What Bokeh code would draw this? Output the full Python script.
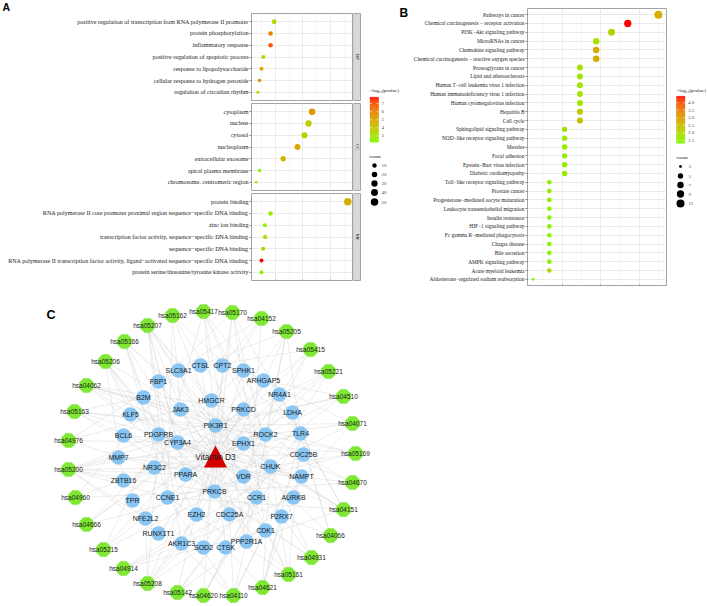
import math
from bokeh.plotting import figure
from bokeh.models import (FactorRange, Range1d, FixedTicker, LinearColorMapper,
                          LinearInterpolator, ColumnDataSource, NumeralTickFormatter)
from bokeh.layouts import row, column
from bokeh.transform import transform
from bokeh.core.properties import value
from bokeh.embed import file_html
from bokeh.resources import INLINE

SERIF = "Liberation Serif"
SANS = "Liberation Sans"

# ---------------- Panel A data (GO enrichment) ----------------
bp_terms = ["positive regulation of transcription from RNA polymerase II promoter",
            "protein phosphorylation", "inflammatory response",
            "positive regulation of apoptotic process", "response to lipopolysaccharide",
            "cellular response to hydrogen peroxide", "regulation of circadian rhythm"]
bp_ratio = [0.238, 0.205, 0.205, 0.140, 0.123, 0.105, 0.090]
bp_count = [13, 11, 11, 8, 7, 6, 5]
bp_logp = [3.4, 6.0, 6.9, 3.5, 5.0, 5.4, 3.3]

cc_terms = ["cytoplasm", "nucleus", "cytosol", "nucleoplasm", "extracellular exosome",
            "apical plasma membrane", "chromosome, centromeric region"]
cc_ratio = [0.583, 0.550, 0.514, 0.450, 0.320, 0.105, 0.075]
cc_count = [32, 30, 28, 25, 18, 6, 4]
cc_logp = [5.5, 3.8, 3.6, 4.9, 4.6, 2.22, 3.0]

mf_terms = ["protein binding",
            "RNA polymerase II core promoter proximal region sequence\u2212specific DNA binding",
            "zinc ion binding",
            "transcription factor activity, sequence\u2212specific DNA binding",
            "sequence\u2212specific DNA binding",
            "RNA polymerase II transcription factor activity, ligand\u2212activated sequence\u2212specific DNA binding",
            "protein serine/threonine/tyrosine kinase activity"]
mf_ratio = [0.907, 0.205, 0.153, 0.156, 0.138, 0.123, 0.123]
mf_count = [50, 11, 8, 9, 8, 7, 7]
mf_logp = [4.8, 2.8, 2.4, 3.3, 3.7, 7.78, 2.5]

facet_names = ["BP", "CC", "MF"]
a_logp_breaks = [3, 4, 5, 6, 7]
a_count_breaks = [10, 20, 30, 40, 50]
a_ratio_breaks = [0.25, 0.50, 0.75]

# ---------------- Panel B data (KEGG enrichment) ----------------
kegg_terms = ["Pathways in cancer", "Chemical carcinogenesis \u2212 receptor activation",
              "PI3K\u2212Akt signaling pathway", "MicroRNAs in cancer", "Chemokine signaling pathway",
              "Chemical carcinogenesis \u2212 reactive oxygen species", "Proteoglycans in cancer",
              "Lipid and atherosclerosis", "Human T\u2212cell leukemia virus 1 infection",
              "Human immunodeficiency virus 1 infection", "Human cytomegalovirus infection",
              "Hepatitis B", "Cell cycle", "Sphingolipid signaling pathway",
              "NOD\u2212like receptor signaling pathway", "Measles", "Focal adhesion",
              "Epstein\u2212Barr virus infection", "Diabetic cardiomyopathy",
              "Toll\u2212like receptor signaling pathway", "Prostate cancer",
              "Progesterone\u2212mediated oocyte maturation", "Leukocyte transendothelial migration",
              "Insulin resistance", "HIF\u22121 signaling pathway", "Fc gamma R\u2212mediated phagocytosis",
              "Chagas disease", "Bile secretion", "AMPK signaling pathway", "Acute myeloid leukemia",
              "Aldosterone\u2212regulated sodium reabsorption"]
kegg_ids = ["hsa05200", "hsa05207", "hsa04151", "hsa05206", "hsa04062", "hsa05208", "hsa05205",
            "hsa05417", "hsa05166", "hsa05170", "hsa05163", "hsa05161", "hsa04110", "hsa04071",
            "hsa04621", "hsa05162", "hsa04510", "hsa05169", "hsa05415", "hsa04620", "hsa05215",
            "hsa04914", "hsa04670", "hsa04931", "hsa04066", "hsa04666", "hsa05142", "hsa04976",
            "hsa04152", "hsa05221", "hsa04960"]
kegg_ratio = [0.180, 0.148, 0.131, 0.115, 0.115, 0.115, 0.098, 0.098, 0.098, 0.098, 0.098,
              0.098, 0.098, 0.082, 0.082, 0.082, 0.082, 0.082, 0.082, 0.066, 0.066, 0.066,
              0.066, 0.066, 0.066, 0.066, 0.066, 0.066, 0.066, 0.066, 0.049]
kegg_count = [11, 9, 8, 7, 7, 7, 6, 6, 6, 6, 6, 6, 6, 5, 5, 5, 5, 5, 5, 4, 4, 4, 4, 4, 4, 4,
              4, 4, 4, 4, 3]
kegg_logp = [2.75, 4.41, 2.15, 1.8, 2.85, 2.8, 1.8, 1.75, 1.75, 1.75, 1.75, 2.3, 2.5, 1.8,
             1.65, 1.65, 1.65, 1.65, 1.65, 1.55, 1.55, 1.55, 1.5, 1.5, 1.5, 1.5, 1.5, 1.5, 1.5,
             2.05, 1.32]
b_logp_breaks = [1.5, 2.0, 2.5, 3.0, 3.5, 4.0]
b_count_breaks = [3, 5, 7, 9, 11]
b_ratio_breaks = [0.08, 0.12, 0.16]

# ---------------- Panel C data (drug-target-pathway network) ----------------
drug = "Vitamin D3"
genes = ["CTSL", "SLC9A1", "FBP1", "B2M", "HMGCR", "JAK3", "KLF5", "PIK3R1", "PDGFRB", "CYP3A4",
         "BCL6", "MMP7", "NR3C2", "PPARA", "ZBTB16", "PRKCB", "TPR", "CCNE1", "EZH2", "NFE2L2",
         "RUNX1T1", "AKR1C3", "SOD2", "CPT2", "SPHK1", "ARHGAP5", "NR4A1", "LDHA", "PRKCD",
         "ROCK2", "TLR4", "EPHX1", "CDC25B", "CHUK", "NAMPT", "VDR", "CCR1", "AURKB", "CDC25A",
         "P2RX7", "CDK1", "PPP2R1A", "CTSK"]
pathway_genes = {
    "hsa05200": ["PIK3R1", "PDGFRB", "PRKCB", "CCNE1", "PPARA", "RUNX1T1", "ROCK2", "CHUK", "NFE2L2", "ZBTB16", "MMP7"],
    "hsa05207": ["CYP3A4", "PIK3R1", "PRKCB", "VDR", "CHUK", "AKR1C3", "EPHX1", "PPARA", "CCNE1"],
    "hsa04151": ["PIK3R1", "PDGFRB", "JAK3", "TLR4", "CCNE1", "CHUK", "PPP2R1A", "NR4A1"],
    "hsa05206": ["EZH2", "PDGFRB", "PIK3R1", "PRKCB", "CDC25A", "ZBTB16", "KLF5"],
    "hsa04062": ["PIK3R1", "JAK3", "PRKCB", "PRKCD", "ROCK2", "CHUK", "CCR1"],
    "hsa05208": ["PIK3R1", "NFE2L2", "CHUK", "SOD2", "AKR1C3", "PDGFRB", "PRKCB"],
    "hsa05205": ["PIK3R1", "PRKCB", "ROCK2", "CTSL", "TLR4", "PPP2R1A"],
    "hsa05417": ["PIK3R1", "TLR4", "CHUK", "ROCK2", "NFE2L2", "PPP2R1A"],
    "hsa05166": ["B2M", "PIK3R1", "CHUK", "CCNE1", "PDGFRB", "CDC25A"],
    "hsa05170": ["PIK3R1", "CHUK", "TLR4", "PRKCB", "B2M", "CDK1"],
    "hsa05163": ["PIK3R1", "B2M", "PRKCB", "ROCK2", "CHUK", "CCR1"],
    "hsa05161": ["PIK3R1", "PRKCB", "TLR4", "CHUK", "CCNE1", "CDK1"],
    "hsa04110": ["CCNE1", "CDC25A", "CDC25B", "CDK1", "PPP2R1A", "TPR"],
    "hsa04071": ["SPHK1", "PIK3R1", "PRKCB", "ROCK2", "PPP2R1A"],
    "hsa04621": ["CHUK", "TLR4", "P2RX7", "NAMPT", "CTSK"],
    "hsa05162": ["PIK3R1", "CHUK", "TLR4", "CCNE1", "JAK3"],
    "hsa04510": ["PIK3R1", "PDGFRB", "PRKCB", "ROCK2", "ARHGAP5"],
    "hsa05169": ["PIK3R1", "CHUK", "B2M", "CCNE1", "BCL6"],
    "hsa05415": ["PIK3R1", "PRKCB", "SLC9A1", "SOD2", "PPARA"],
    "hsa04620": ["PIK3R1", "TLR4", "CHUK", "CCR1"],
    "hsa05215": ["PIK3R1", "PDGFRB", "CCNE1", "CHUK"],
    "hsa04914": ["CDC25A", "CDC25B", "CDK1", "AURKB"],
    "hsa04670": ["PIK3R1", "PRKCB", "ROCK2", "MMP7"],
    "hsa04931": ["PIK3R1", "PRKCB", "CHUK", "PPARA"],
    "hsa04066": ["PIK3R1", "PRKCB", "TLR4", "LDHA"],
    "hsa04666": ["PIK3R1", "PRKCB", "SPHK1", "PRKCD"],
    "hsa05142": ["PIK3R1", "TLR4", "CHUK", "PPP2R1A"],
    "hsa04976": ["SLC9A1", "CYP3A4", "HMGCR", "NR3C2"],
    "hsa04152": ["HMGCR", "FBP1", "PPP2R1A", "CPT2"],
    "hsa05221": ["PIK3R1", "CHUK", "PPARA", "RUNX1T1"],
    "hsa04960": ["NR3C2", "PRKCB", "SLC9A1"],
}

# ---------------- layout (pixel positions of the network drawing) ----------------
node_pos = {
    "Vitamin D3": (215, 456),
    "CTSL": (200, 365), "SLC9A1": (178, 370), "FBP1": (158, 381), "B2M": (143, 397),
    "HMGCR": (211, 400), "JAK3": (180, 409), "KLF5": (130, 414), "PIK3R1": (215, 425),
    "PDGFRB": (158, 434), "CYP3A4": (177, 442), "BCL6": (123, 435), "MMP7": (118, 457),
    "NR3C2": (154, 467), "PPARA": (185, 474), "ZBTB16": (123, 480), "PRKCB": (214, 491),
    "TPR": (132, 500), "CCNE1": (167, 497), "EZH2": (196, 514), "NFE2L2": (145, 518),
    "RUNX1T1": (158, 533), "AKR1C3": (181, 543), "SOD2": (203, 547), "CPT2": (222, 365),
    "SPHK1": (243, 370), "ARHGAP5": (263, 380), "NR4A1": (279, 394), "LDHA": (292, 412),
    "PRKCD": (243, 409), "ROCK2": (265, 434), "TLR4": (300, 433), "EPHX1": (243, 443),
    "CDC25B": (303, 454), "CHUK": (270, 466), "NAMPT": (301, 476), "VDR": (243, 476),
    "CCR1": (256, 497), "AURKB": (293, 497), "CDC25A": (229, 514), "P2RX7": (281, 516),
    "CDK1": (265, 530), "PPP2R1A": (246, 541), "CTSK": (225, 547),
    "hsa05162": (172, 315), "hsa05417": (203, 311), "hsa05207": (147, 325),
    "hsa05166": (124, 341), "hsa05206": (105, 361), "hsa04062": (86, 385),
    "hsa05163": (74, 411), "hsa04976": (68, 440), "hsa05200": (68, 469),
    "hsa04960": (75, 497), "hsa04666": (86, 524), "hsa05215": (103, 549),
    "hsa04914": (123, 568), "hsa05208": (147, 583), "hsa05142": (177, 592),
    "hsa04620": (203, 595), "hsa04110": (233, 595), "hsa04621": (262, 587),
    "hsa05161": (288, 574), "hsa04931": (311, 557), "hsa04066": (330, 535),
    "hsa04151": (343, 509), "hsa04670": (352, 482), "hsa05169": (355, 453),
    "hsa04071": (352, 423), "hsa04510": (343, 396), "hsa05221": (328, 371),
    "hsa05415": (310, 349), "hsa05205": (286, 331), "hsa04152": (261, 318),
    "hsa05170": (232, 312),
}

# ---------------- helpers ----------------
def _lin(c):
    c = c / 255.0
    return c / 12.92 if c <= 0.04045 else ((c + 0.055) / 1.055) ** 2.4

def _gam(c):
    c = max(0.0, min(1.0, c))
    v = 12.92 * c if c <= 0.0031308 else 1.055 * c ** (1 / 2.4) - 0.055
    return int(round(max(0.0, min(1.0, v)) * 255))

def hex_to_lab(h):
    r, g, b = (_lin(int(h[i:i + 2], 16)) for i in (1, 3, 5))
    X = (0.4124 * r + 0.3576 * g + 0.1805 * b) / 0.95047
    Y = 0.2126 * r + 0.7152 * g + 0.0722 * b
    Z = (0.0193 * r + 0.1192 * g + 0.9505 * b) / 1.08883
    f = lambda t: t ** (1 / 3) if t > 0.008856 else 7.787 * t + 16 / 116
    fx, fy, fz = f(X), f(Y), f(Z)
    return 116 * fy - 16, 500 * (fx - fy), 200 * (fy - fz)

def lab_to_hex(L, a, b):
    fy = (L + 16) / 116
    fx, fz = fy + a / 500, fy - b / 200
    fi = lambda t: t ** 3 if t ** 3 > 0.008856 else (t - 16 / 116) / 7.787
    X, Y, Z = 0.95047 * fi(fx), fi(fy), 1.08883 * fi(fz)
    R = 3.2406 * X - 1.5372 * Y - 0.4986 * Z
    G = -0.9689 * X + 1.8758 * Y + 0.0415 * Z
    B = 0.0557 * X - 0.2040 * Y + 1.0570 * Z
    return "#%02x%02x%02x" % (_gam(R), _gam(G), _gam(B))

def lab_palette(lo, hi, n=256):
    l0, l1 = hex_to_lab(lo), hex_to_lab(hi)
    return [lab_to_hex(*[l0[k] + (l1[k] - l0[k]) * i / (n - 1) for k in range(3)]) for i in range(n)]

PAL = lab_palette("#7CFC00", "#FF0000")

def size_scale(vmin, vmax, dmin, dmax):
    xs = [vmin + (vmax - vmin) * k / 20 for k in range(21)]
    ys = [dmin + (dmax - dmin) * math.sqrt(k / 20) for k in range(21)]
    return LinearInterpolator(x=xs, y=ys)

def base_fig(**kw):
    p = figure(output_backend="svg", toolbar_location=None, **kw)
    try:
        p.frame_align = False
    except Exception:
        pass
    return p

def blank(p):
    p.axis.visible = False
    p.grid.visible = False
    p.outline_line_color = None

GRID = "#EBEBEB"
BORDER = "#A3A3A3"
TICKLAB = "#4D4D4D"

def style_dotplot(p, xticks, xminor, ylab_size, show_x, label_standoff):
    p.outline_line_color = BORDER
    p.outline_line_width = 1
    p.background_fill_color = "white"
    p.yaxis.axis_line_color = None
    p.yaxis.major_tick_out = 2
    p.yaxis.major_tick_in = 0
    p.yaxis.major_tick_line_color = "#555555"
    p.yaxis.major_tick_line_width = 0.7
    p.yaxis.major_label_text_font = SERIF
    p.yaxis.major_label_text_font_size = ylab_size
    p.yaxis.major_label_text_color = "#222222"
    p.yaxis.major_label_standoff = 1
    p.ygrid.grid_line_color = GRID
    p.xaxis.ticker = FixedTicker(ticks=xticks, minor_ticks=xminor)
    p.xgrid.ticker = FixedTicker(ticks=xticks, minor_ticks=xminor)
    p.xgrid.grid_line_color = GRID
    p.xgrid.minor_grid_line_color = "#F3F3F3"
    p.xgrid.minor_grid_line_width = 0.6
    if show_x:
        p.xaxis.fixed_location = -0.1          # bottom edge of the padded factor range
        p.xaxis.formatter = NumeralTickFormatter(format="0.00")
        p.xaxis.axis_line_color = None
        p.xaxis.major_tick_out = 2
        p.xaxis.major_tick_in = 0
        p.xaxis.minor_tick_line_color = None
        p.xaxis.major_tick_line_color = "#555555"
        p.xaxis.major_tick_line_width = 0.7
        p.xaxis.major_label_text_font = SERIF
        p.xaxis.major_label_text_font_size = "5.5px"
        p.xaxis.major_label_text_color = TICKLAB
        p.xaxis.major_label_standoff = 1
        p.xaxis.axis_label = "GeneRatio"
        p.xaxis.axis_label_text_font = SERIF
        p.xaxis.axis_label_text_font_style = "normal"
        p.xaxis.axis_label_text_font_size = "8.5px"
        p.xaxis.axis_label_text_color = "#111111"
        p.xaxis.axis_label_standoff = label_standoff
    else:
        p.xaxis.visible = False

def legend_box(p, mapper, breaks, fmt, bx0, bx1, btop, bbot, title_xy,
               count_breaks, size_map, dot_x, dot_ys, lab_x, count_title_xy):
    lo, hi = mapper.low, mapper.high
    n = 80
    vals = [lo + (hi - lo) * (i + 0.5) / n for i in range(n)]
    h = bbot - btop
    seg_src = ColumnDataSource(dict(
        v=vals,
        top=[bbot - h * (i + 1) / n for i in range(n)],
        bottom=[bbot - h * i / n for i in range(n)]))
    p.quad(left=bx0, right=bx1, top="top", bottom="bottom", source=seg_src,
           fill_color=transform("v", mapper), line_color=transform("v", mapper), line_width=0.3)
    ty = [bbot - h * (b - lo) / (hi - lo) for b in breaks]
    tw = (bx1 - bx0) / 5
    p.segment(x0=[bx0] * len(ty), y0=ty, x1=[bx0 + tw] * len(ty), y1=ty,
              line_color="white", line_width=0.6)
    p.segment(x0=[bx1 - tw] * len(ty), y0=ty, x1=[bx1] * len(ty), y1=ty,
              line_color="white", line_width=0.6)
    p.text(x=[bx1 + 3] * len(ty), y=ty, text=[fmt(b) for b in breaks], text_baseline="middle",
           text_font=value(SERIF), text_font_size="5px", text_color=TICKLAB)
    p.text(x=[title_xy[0]], y=[title_xy[1]], text=["\u2212log\u2081\u2080(pvalue)"],
           text_baseline="middle", text_font=value(SERIF), text_font_size="5px",
           text_color="#111111")
    src = ColumnDataSource(dict(v=count_breaks, lab=[str(v) for v in count_breaks], y=dot_ys))
    p.scatter(x=dot_x, y="y", source=src, size=transform("v", size_map), fill_color="black",
              line_color=None)
    p.text(x=lab_x, y="y", text="lab", source=src, text_baseline="middle",
           text_font=value(SERIF), text_font_size="5px", text_color=TICKLAB)
    p.text(x=[count_title_xy[0]], y=[count_title_xy[1]], text=["count"], text_baseline="middle",
           text_font=value(SERIF), text_font_size="5px", text_color="#111111")

# ---------------- Panel A ----------------
A_ROW_H = 302
A_W = 353
A_LEFT = 251
HDR_H = 13
LA_W = 57
facet_geom = [(88, 0, 1), (90, 2, 1), (111, 2, 22)]   # (height, top border, bottom border)
a_all_count = bp_count + cc_count + mf_count
a_all_logp = bp_logp + cc_logp + mf_logp
a_mapper = LinearColorMapper(palette=PAL, low=min(a_all_logp), high=max(a_all_logp))
a_size = size_scale(min(a_all_count), max(a_all_count), 2.7, 7.5)
a_xrange = Range1d(0.032, 0.95)

hdr = base_fig(width=A_W, height=HDR_H, x_range=Range1d(0, A_W), y_range=Range1d(HDR_H, 0),
               min_border=0)
blank(hdr)
hdr.text(x=[2], y=[HDR_H / 2], text=["A"], text_baseline="middle", text_font=value(SANS),
         text_font_style="bold", text_font_size="10.5px", text_color="black")

facet_data = [(bp_terms, bp_ratio, bp_count, bp_logp),
              (cc_terms, cc_ratio, cc_count, cc_logp),
              (mf_terms, mf_ratio, mf_count, mf_logp)]
facet_figs = []
strip_top, strip_bot = [], []
ycur = HDR_H
for k, ((terms, ratio, cnt, lp), (h, tb, bb)) in enumerate(zip(facet_data, facet_geom)):
    p = base_fig(width=A_W, height=h, x_range=a_xrange,
                 y_range=FactorRange(factors=list(reversed(terms)), range_padding=0.2,
                                     range_padding_units="absolute"),
                 min_border_left=A_LEFT, min_border_right=1, min_border_top=tb,
                 min_border_bottom=bb)
    src = ColumnDataSource(dict(term=terms, ratio=ratio, count=cnt, logp=lp))
    p.scatter("ratio", "term", source=src, size=transform("count", a_size),
              fill_color=transform("logp", a_mapper), line_color=None)
    style_dotplot(p, a_ratio_breaks, [0.125, 0.375, 0.625, 0.875], "6.1px", k == 2, 0)
    facet_figs.append(p)
    strip_top.append(ycur + tb)
    strip_bot.append(ycur + h - bb)
    ycur += h

# strips + legend column for panel A (also carries the "B" tag)
la = base_fig(width=LA_W, height=A_ROW_H, x_range=Range1d(A_W, A_W + LA_W),
              y_range=Range1d(A_ROW_H, 0), min_border=0)
blank(la)
la.quad(left=A_W, right=A_W + 7, top=strip_top, bottom=strip_bot,
        fill_color="#D9D9D9", line_color=BORDER, line_width=1)
la.text(x=A_W + 3.7, y=[(t + b) / 2 for t, b in zip(strip_top, strip_bot)], text=facet_names,
        angle=-math.pi / 2, text_align="center", text_baseline="middle",
        text_font=value(SERIF), text_font_size="5px", text_color="#1A1A1A")
legend_box(la, a_mapper, a_logp_breaks, lambda b: "%d" % b, 369.5, 378, 96.7, 141.7,
           (369, 90), a_count_breaks, a_size, 374, [165, 174, 183, 192, 201.5], 381,
           (369, 156))
la.text(x=[399], y=[12], text=["B"], text_baseline="alphabetic", text_font=value(SANS),
        text_font_style="bold", text_font_size="12px", text_color="black")

# ---------------- Panel B ----------------
B_X0 = A_W + LA_W
B_W = 668 - B_X0
B_H = 312
B_TOP = 8
B_BOT = B_H - 285
b_mapper = LinearColorMapper(palette=PAL, low=min(kegg_logp), high=max(kegg_logp))
b_size = size_scale(min(kegg_count), max(kegg_count), 2.8, 8.0)
pb = base_fig(width=B_W, height=B_H, x_range=Range1d(0.0432, 0.1885),
              y_range=FactorRange(factors=list(reversed(kegg_terms)), range_padding=0.2,
                                  range_padding_units="absolute"),
              min_border_left=527 - B_X0, min_border_right=2, min_border_top=B_TOP,
              min_border_bottom=B_BOT)
srcb = ColumnDataSource(dict(term=kegg_terms, ratio=kegg_ratio, count=kegg_count, logp=kegg_logp))
pb.scatter("ratio", "term", source=srcb, size=transform("count", b_size),
           fill_color=transform("logp", b_mapper), line_color=None)
style_dotplot(pb, b_ratio_breaks, [0.06, 0.10, 0.14, 0.18], "5.4px", True, 0)
pb.xaxis.major_label_text_font_size = "5px"

lb = base_fig(width=708 - 668, height=B_H, x_range=Range1d(668, 708),
              y_range=Range1d(B_H, 0), min_border=0)
blank(lb)
legend_box(lb, b_mapper, b_logp_breaks, lambda b: "%.1f" % b, 676, 684.5, 95.7, 142.7,
           (676, 90), b_count_breaks, b_size, 680, [166, 175.5, 184.5, 193.5, 203], 688,
           (676, 157))

# ---------------- Panel C ----------------
C_TOP = A_ROW_H
C_BOTTOM = 606
C_W = A_W + LA_W
pc = base_fig(width=C_W, height=C_BOTTOM - C_TOP, x_range=Range1d(0, C_W),
              y_range=Range1d(C_BOTTOM, C_TOP), min_border=0)
blank(pc)

ex0, ey0, ex1, ey1 = [], [], [], []
for g in genes:
    ex0.append(node_pos[drug][0]); ey0.append(node_pos[drug][1])
    ex1.append(node_pos[g][0]); ey1.append(node_pos[g][1])
for pid, gl in pathway_genes.items():
    for g in gl:
        ex0.append(node_pos[pid][0]); ey0.append(node_pos[pid][1])
        ex1.append(node_pos[g][0]); ey1.append(node_pos[g][1])
pc.segment(ex0, ey0, ex1, ey1, line_color="#C8C8C8", line_alpha=0.55, line_width=0.6)

OCT_R = 7.6
oxs, oys = [], []
for pid in kegg_ids:
    cx, cy = node_pos[pid]
    oxs.append([cx + OCT_R * math.cos(math.radians(22.5 + 45 * k)) for k in range(8)])
    oys.append([cy + OCT_R * math.sin(math.radians(22.5 + 45 * k)) for k in range(8)])
pc.patches(oxs, oys, fill_color="#7FE834", line_color="#7FE834", line_width=0.5)

gsrc = ColumnDataSource(dict(x=[node_pos[g][0] for g in genes], y=[node_pos[g][1] for g in genes],
                             name=genes))
pc.scatter("x", "y", source=gsrc, size=14.5, fill_color="#89C6F4", line_color=None)

dx, dy = node_pos[drug]
TRI_W, TRI_H = 23, 22
pc.patch([dx - TRI_W / 2, dx + TRI_W / 2, dx], [dy + TRI_H / 2, dy + TRI_H / 2, dy - TRI_H / 2],
         fill_color="#D50000", line_color=None)

psrc = ColumnDataSource(dict(x=[node_pos[p][0] for p in kegg_ids],
                             y=[node_pos[p][1] for p in kegg_ids], name=kegg_ids))
pc.text("x", "y", text="name", source=gsrc, text_align="center", text_baseline="middle",
        text_font=value(SANS), text_font_size="7px", text_color="#1A1A1A")
pc.text("x", "y", text="name", source=psrc, text_align="center", text_baseline="middle",
        text_font=value(SANS), text_font_size="6.5px", text_color="#1A1A1A")
pc.text(x=[dx], y=[dy], text=[drug], text_align="center", text_baseline="middle",
        text_font=value(SANS), text_font_size="8.3px", text_color="#1A1A1A")
pc.text(x=[46], y=[314], text=["C"], text_baseline="alphabetic", text_font=value(SANS),
        text_font_style="bold", text_font_size="12.5px", text_color="black")

left_col = column(row(column(hdr, *facet_figs, spacing=0), la, spacing=0), pc, spacing=0)
right_col = row(pb, lb, spacing=0)
layout = row(left_col, right_col, spacing=0)

open("out.html", "w").write(file_html(layout, INLINE))
